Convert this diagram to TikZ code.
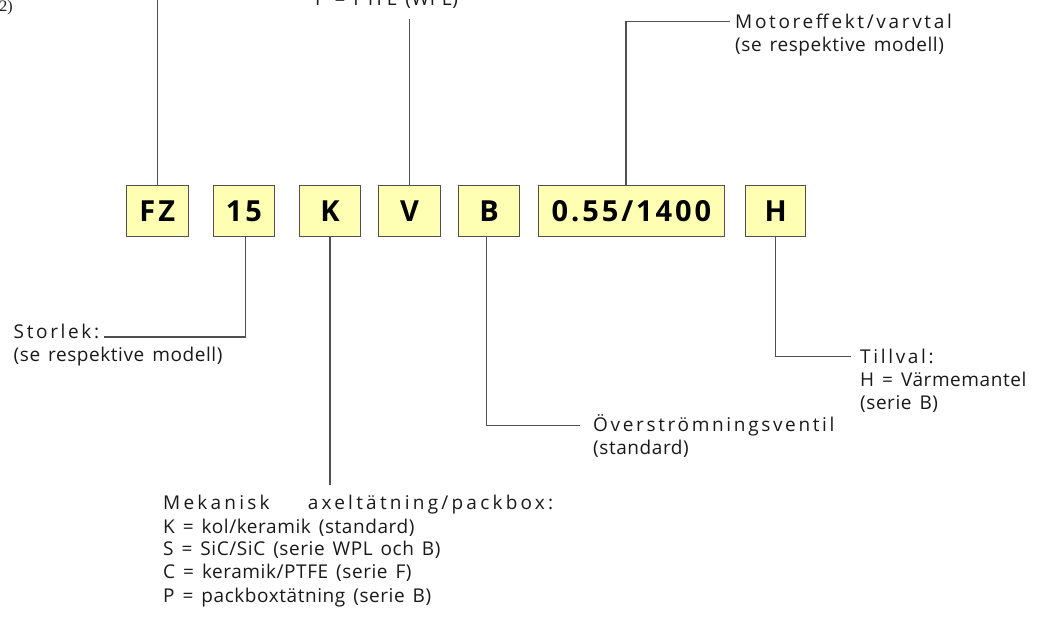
\documentclass[tikz,border=0pt]{standalone}
\usepackage{fontspec}
\setmainfont{Open Sans}
\newfontfamily\lblf[LetterSpace=3,WordSpace=1.45]{Open Sans}
\newfontfamily\lblwf[LetterSpace=14]{Open Sans}
\newfontfamily\mekf[LetterSpace=17]{Open Sans}
\newfontfamily\boxfont[LetterSpace=10]{Open Sans}
\newfontfamily\serf{Liberation Serif}
\definecolor{boxfill}{HTML}{FFFFB3}
\definecolor{boxline}{HTML}{505050}
\definecolor{connline}{HTML}{505050}
\definecolor{txt}{HTML}{1A1A1A}
\begin{document}
\begin{tikzpicture}[x=1pt,y=-1pt,
  code/.style={draw=boxline, fill=boxfill, line width=1.1pt, minimum height=50.7pt,
    inner sep=0pt, text height=20.5pt, text depth=0pt,
    font=\boxfont\bfseries\fontsize{29}{29}\selectfont},
  conn/.style={draw=connline, line width=1.1pt},
  lbl/.style={inner sep=0pt, anchor=base west, text=txt, font=\lblf\fontsize{19}{23}\selectfont},
  lblw/.style={lbl, font=\lblwf\fontsize{19}{23}\selectfont},
  lblm/.style={lbl, font=\mekf\fontsize{19}{23}\selectfont}]
\fill[white] (0,0) rectangle (1037,617);
\useasboundingbox (0,0) rectangle (1037,617);

% code boxes
\node[code, minimum width=61.5pt] (fz) at (157.3,211.3) {FZ};
\node[code, minimum width=60.5pt] (b15) at (244,211.3) {15};
\node[code, minimum width=61pt] (k) at (330,211.3) {K};
\node[code, minimum width=61.5pt] (v) at (409.6,211.3) {V};
\node[code, minimum width=60.6pt] (b) at (489,211.3) {B};
\node[code, minimum width=186.7pt] (p) at (631.4,211.3) {0.55/1400};
\node[code, minimum width=59.6pt] (h) at (775.7,211.3) {H};

% labels
\node[inner sep=0pt, anchor=base east, text=txt, font=\serf\fontsize{16}{18}\selectfont] (two) at (13,12) {2)};
\node[lbl] (ptfe) at (315,6) {P = PTFE (WPL)};
\node[lblw] (motor1) at (735,28.5) {Motoreffekt/varvtal};
\node[lbl] (motor2) at (735,51.5) {(se respektive modell)};
\node[lblw] (stor1) at (13.5,339) {Storlek:};
\node[lbl] (stor2) at (13.5,362) {(se respektive modell)};
\node[lblw] (till1) at (860,364) {Tillval:};
\node[lbl] (till2) at (860,387) {H = Värmemantel};
\node[lbl] (till3) at (860,410) {(serie B)};
\node[lblw] (over1) at (593,432) {Överströmningsventil};
\node[lbl] (over2) at (593,455) {(standard)};
\node[lblm] (mek1) at (163,510) {\makebox[390pt][l]{Mekanisk\hfill axeltätning/packbox:}};
\node[lbl] (mek2) at (163,533) {K = kol/keramik (standard)};
\node[lbl] (mek3) at (163,556) {S = SiC/SiC (serie WPL och B)};
\node[lbl] (mek4) at (163,579) {C = keramik/PTFE (serie F)};
\node[lbl] (mek5) at (163,602) {P = packboxtätning (serie B)};

% connectors
\coordinate (fztop) at (157.3,-3);
\draw[conn] (fz.north) -- (fz.north |- fztop);
\coordinate (vtop) at (409.6,19);
\draw[conn] (v.north) -- (vtop);
\coordinate (mcorner) at (626,0);
\draw[conn] (p.north -| mcorner) |- ([xshift=-5pt]motor1.west);
\coordinate (c15) at (245.5,0);
\draw[conn] (b15.south -| c15) |- ([xshift=5pt,yshift=2pt]stor1.base east);
\coordinate (kend) at (330,485);
\draw[conn] (k.south) -- (k.south |- kend);
\coordinate (cb) at (486.7,0);
\draw[conn] (b.south -| cb) |- ([xshift=-13pt]over1.west);
\draw[conn] (h.south) |- ([xshift=-9pt]till1.west);
\end{tikzpicture}
\end{document}
